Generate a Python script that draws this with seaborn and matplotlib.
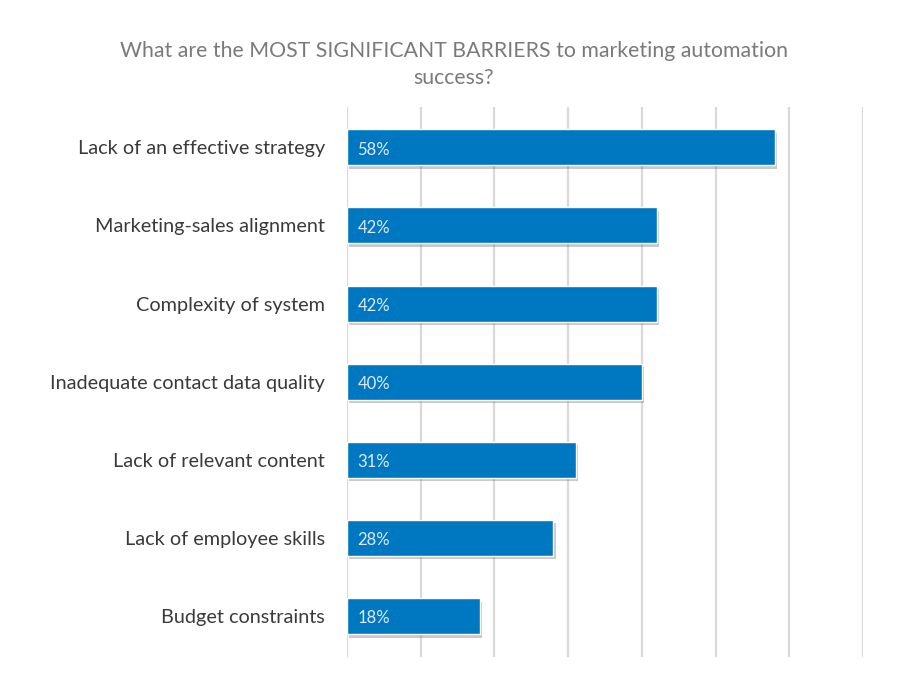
import matplotlib
matplotlib.use("Agg")
import matplotlib.pyplot as plt
import matplotlib.patheffects as pe
import seaborn as sns
import pandas as pd

# chart data
barriers = [
    "Lack of an effective strategy",
    "Marketing-sales alignment",
    "Complexity of system",
    "Inadequate contact data quality",
    "Lack of relevant content",
    "Lack of employee skills",
    "Budget constraints",
]
percent = [58, 42, 42, 40, 31, 28, 18]

df = pd.DataFrame({"barrier": barriers, "percent": percent})

sns.set_style("white")
plt.rcParams["font.family"] = ["Lato", "DejaVu Sans"]

fig = plt.figure(figsize=(9.07, 6.75), dpi=100)
ax = fig.add_axes([0.3826, 0.027, 0.569, 0.815])

sns.barplot(data=df, x="percent", y="barrier", color="#0078c1", saturation=1,
            width=0.46, ax=ax, zorder=3)

# soft drop shadow under each bar
for bar in ax.patches:
    bar.set_path_effects([pe.SimplePatchShadow(offset=(1.5, -2.5), shadow_rgbFace="#666666", alpha=0.35),
                          pe.Normal()])

for i, v in enumerate(percent):
    ax.text(1.4, i + 0.03, f"{v}%", color="#dce9f5", fontsize=12, va="center", ha="left", zorder=4)

ax.set_xlim(0, 70)
ax.set_ylim(6.52, -0.52)
ax.set_xticks(range(0, 71, 10))
ax.xaxis.grid(True, color="#d9d9d9", linewidth=1.6, zorder=0)
ax.set_xticklabels([])
ax.tick_params(axis="x", length=0)
ax.tick_params(axis="y", length=0, pad=16, labelsize=14.3, labelcolor="#3a3a3a")
ax.set_xlabel("")
ax.set_ylabel("")
for s in ax.spines.values():
    s.set_visible(False)

fig.text(0.5, 0.905, "What are the MOST SIGNIFICANT BARRIERS to marketing automation\nsuccess?",
         ha="center", va="center", fontsize=15.3, color="#7a7a7a", linespacing=1.45)

fig.savefig("out.png", dpi=100, facecolor="white")
